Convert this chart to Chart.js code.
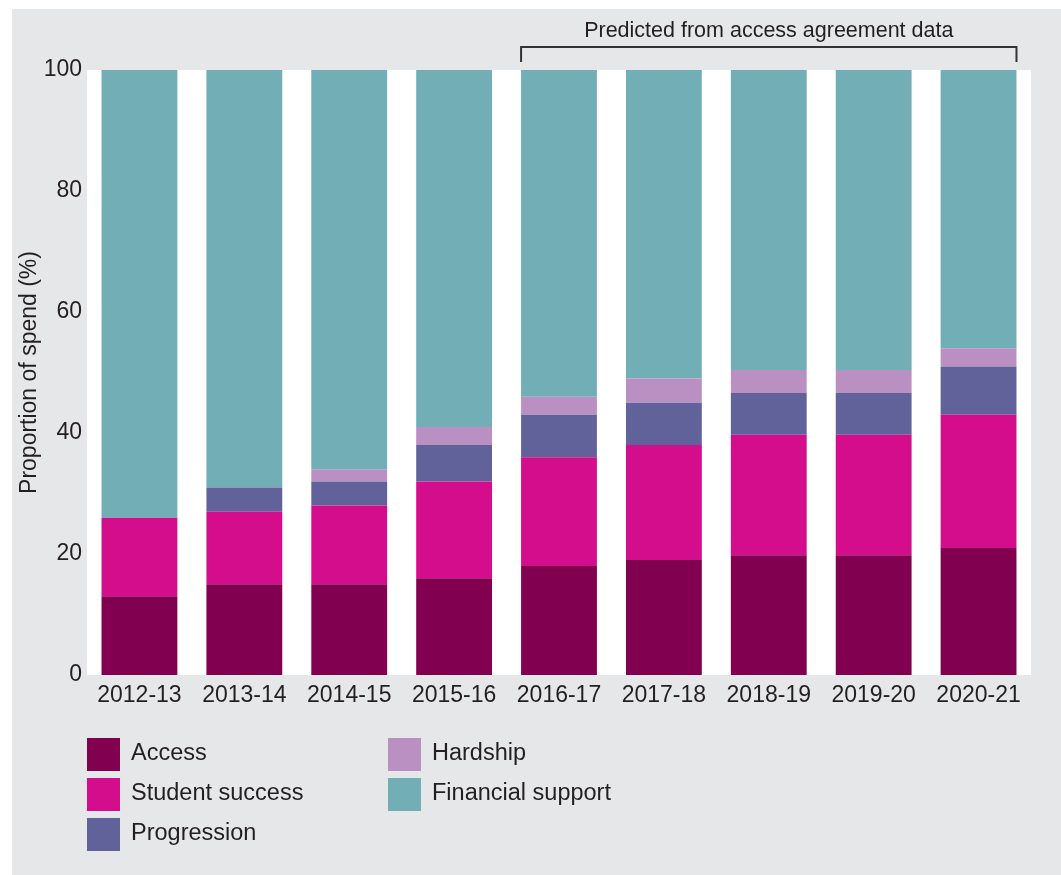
<!DOCTYPE html>
<html>
<head>
<meta charset="utf-8">
<script src="https://cdn.jsdelivr.net/npm/chart.js@4"></script>
<style>
  html, body { margin: 0; padding: 0; background: #fff; }
  #wrap { position: relative; width: 1061px; height: 875px; }
</style>
</head>
<body>
<div id="wrap"><canvas id="myChart" width="1061" height="875"></canvas></div>
<script>
const ctx = document.getElementById("myChart");

const years = ['2012-13', '2013-14', '2014-15', '2015-16', '2016-17', '2017-18', '2018-19', '2019-20', '2020-21'];
const access = [13, 15, 15, 16, 18, 19, 19.8, 19.8, 21];
const studentSuccess = [13, 12, 13, 16, 18, 19, 19.9, 19.9, 22];
const progression = [0, 4, 4, 6, 7, 7, 6.9, 6.9, 8];
const hardship = [0, 0, 2, 3, 3, 4, 3.8, 3.8, 3];
const financialSupport = [74, 69, 66, 59, 54, 51, 49.6, 49.6, 46];
const yTicks = [0, 20, 40, 60, 80, 100];

const FONT = "'Liberation Sans', Arial, Helvetica, sans-serif";
const TEXT = '#231f20';
const GREY = '#e6e7e9';

const seriesNames = ['Access', 'Student success', 'Progression', 'Hardship', 'Financial support'];
const seriesColors = ['#820050', '#d40d8c', '#62629b', '#b990c1', '#72aeb6'];
const seriesValues = [access, studentSuccess, progression, hardship, financialSupport];

const data = {
    labels: years,
    datasets: seriesNames.map((name, i) => ({
        label: name,
        data: seriesValues[i],
        backgroundColor: seriesColors[i],
        borderWidth: 0,
        barPercentage: 0.723,
        categoryPercentage: 1
    }))
};

// grey panel + white plot area behind the bars
const background = {
    id: 'background',
    beforeDraw: (chart) => {
        const { ctx, chartArea: { top, left, right, bottom } } = chart;
        ctx.save();
        ctx.fillStyle = '#ffffff';
        ctx.fillRect(0, 0, chart.width, chart.height);
        ctx.fillStyle = GREY;
        ctx.fillRect(12, 9, chart.width - 12, chart.height - 9);
        ctx.fillStyle = '#ffffff';
        ctx.fillRect(left, top, right - left, bottom - top);
        ctx.restore();
    }
};

// bracket over the predicted years and the hand-placed legend
const extras = {
    id: 'extras',
    afterDraw: (chart) => {
        const { ctx, scales: { x } } = chart;
        const meta = chart.getDatasetMeta(0);
        const half = meta.data[4].width / 2;
        const x1 = x.getPixelForValue(4) - half;
        const x2 = x.getPixelForValue(8) + half;
        ctx.save();
        ctx.strokeStyle = '#333333';
        ctx.lineWidth = 2;
        ctx.beginPath();
        ctx.moveTo(x1, 62);
        ctx.lineTo(x1, 47);
        ctx.lineTo(x2, 47);
        ctx.lineTo(x2, 62);
        ctx.stroke();
        ctx.fillStyle = TEXT;
        ctx.font = '21.5px ' + FONT;
        ctx.textAlign = 'center';
        ctx.textBaseline = 'middle';
        ctx.fillText('Predicted from access agreement data', (x1 + x2) / 2, 31);

        // legend
        const cols = [[0, 1, 2], [3, 4]];
        const colX = [87, 388];
        ctx.font = '23.5px ' + FONT;
        ctx.textAlign = 'left';
        cols.forEach((col, c) => {
            col.forEach((idx, r) => {
                const top = 738 + r * 40;
                ctx.fillStyle = seriesColors[idx];
                ctx.fillRect(colX[c], top, 33, 33);
                ctx.fillStyle = TEXT;
                ctx.fillText(seriesNames[idx], colX[c] + 44, top + 16);
            });
        });
        ctx.restore();
    }
};

new Chart(ctx, {
    type: 'bar',
    data: data,
    options: {
        responsive: false,
        animation: false,
        layout: { padding: { top: 70, right: 30, left: 0, bottom: 0 } },
        plugins: {
            legend: { display: false },
            tooltip: { enabled: false }
        },
        scales: {
            x: {
                stacked: true,
                grid: { display: false, drawTicks: false },
                border: { display: false },
                ticks: { color: TEXT, font: { family: FONT, size: 23 }, padding: 7, maxRotation: 0 },
                afterFit: (scale) => { scale.height = 200; }
            },
            y: {
                stacked: true,
                min: 0,
                max: 100,
                afterBuildTicks: (scale) => { scale.ticks = yTicks.map(v => ({ value: v })); },
                grid: { display: false, drawTicks: false },
                border: { display: false },
                ticks: { color: TEXT, font: { family: FONT, size: 23 }, padding: 5 },
                title: {
                    display: true,
                    text: 'Proportion of spend (%)',
                    color: TEXT,
                    font: { family: FONT, size: 23 },
                    padding: { top: 16, bottom: 0 }
                },
                afterFit: (scale) => { scale.width = 87; }
            }
        }
    },
    plugins: [background, extras]
});
</script>
</body>
</html>
